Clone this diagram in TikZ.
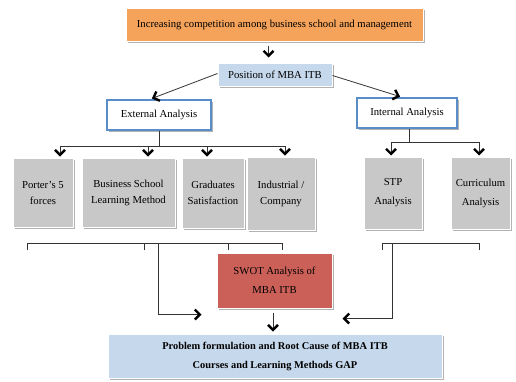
\documentclass[tikz,border=0pt]{standalone}
\usepackage{fontspec}
\setmainfont{Liberation Serif}
\usetikzlibrary{arrows.meta,shadows}

\definecolor{orangebox}{HTML}{F5A35A}
\definecolor{paleblue}{HTML}{C6D8EC}
\definecolor{greybox}{HTML}{C8C8C8}
\definecolor{swotred}{HTML}{CB6058}
\definecolor{frameblue}{HTML}{5A8CC8}
\definecolor{linegrey}{HTML}{333333}

\tikzset{
  card/.style={draw=white, line width=1pt, inner sep=2pt, align=center,
    font=\fontsize{10.7}{16}\selectfont,
    drop shadow={shadow xshift=1.5pt, shadow yshift=-1.5pt, fill=black, opacity=0.3}},
  topbox/.style={card, fill=orangebox},
  bluebox/.style={card, fill=paleblue},
  framebox/.style={card, fill=white, draw=frameblue, line width=1.6pt},
  factor/.style={card, fill=greybox},
  redbox/.style={card, fill=swotred, font=\fontsize{10.7}{19}\selectfont},
  wire/.style={draw=linegrey, line width=0.8pt},
  arr/.style={wire, -{Straight Barb[length=5pt, width=10pt, line width=2.4pt 0, color=black]}},
}

\begin{document}
\begin{tikzpicture}[x=1pt, y=-1pt]
\useasboundingbox (0,0) rectangle (516,381);

% boxes
\node[topbox, minimum width=297pt, minimum height=33pt] (top) at (274.5,24.5)
  {Increasing competition among business school and management};
\node[bluebox, minimum width=114pt, minimum height=23pt] (pos) at (275,74.5)
  {Position of MBA ITB};
\node[framebox, minimum width=104pt, minimum height=30pt] (ext) at (159,115)
  {External Analysis};
\node[framebox, minimum width=100pt, minimum height=30pt] (int) at (407,113)
  {Internal Analysis};

\node[factor, minimum width=60pt, minimum height=69pt] (porter) at (43,192.5)
  {Porter’s 5\\forces};
\node[factor, minimum width=93pt, minimum height=69pt] (bsl) at (128.5,192.5)
  {Business School\\Learning Method};
\node[factor, minimum width=62pt, minimum height=70pt] (grad) at (213,193)
  {Graduates\\Satisfaction};
\node[factor, minimum width=68pt, minimum height=73pt] (ind) at (281,193.5)
  {Industrial /\\Company};
\node[factor, minimum width=58pt, minimum height=72pt, font=\fontsize{10.7}{19}\selectfont] (stp) at (393,193)
  {STP\\Analysis};
\node[factor, minimum width=59pt, minimum height=72pt, font=\fontsize{10.7}{19}\selectfont] (cur) at (480.5,193)
  {Curriculum\\Analysis};

\node[redbox, minimum width=115pt, minimum height=55pt] (swot) at (274.5,280.5)
  {SWOT Analysis of\\MBA ITB};
\node[bluebox, minimum width=334pt, minimum height=44pt, font=\bfseries\fontsize{10.4}{19}\selectfont] (gap) at (275,356)
  {Problem formulation and Root Cause of MBA ITB\\Courses and Learning Methods GAP};

% top of the chain
\draw[arr, shorten <=4pt, shorten >=5pt] ([xshift=-6pt]top.south) -- ([xshift=-6pt]top.south |- pos.north);
\draw[arr, shorten >=2pt] ([yshift=1pt]pos.west) -- ([xshift=-9pt]ext.north);
\draw[arr, shorten >=2pt] ([yshift=-1pt]pos.east) -- ([xshift=-5pt]int.north);

% external analysis branches
\coordinate (ej) at (159,146);
\coordinate (e1) at (60,146);
\coordinate (e2) at (148,146);
\coordinate (e3) at (207,146);
\coordinate (e4) at (285,146);
\draw[wire] (ext.south) -- (ej);
\draw[wire] (e1) -- (e4);
\foreach \c/\b in {e1/porter, e2/bsl, e3/grad, e4/ind}
  \draw[arr, shorten >=1pt] (\c) -- (\c |- \b.north);

% internal analysis branches
\coordinate (ij) at (409,142);
\coordinate (i1) at (391,142);
\coordinate (i2) at (479,142);
\draw[wire] ([xshift=2pt]int.south) -- (ij);
\draw[wire] (i1) -- (i2);
\foreach \c/\b in {i1/stp, i2/cur}
  \draw[arr, shorten >=1pt] (\c) -- (\c |- \b.north);

% bracket under the external factors
\coordinate (lb1) at (27,243);
\coordinate (lb2) at (144,243);
\coordinate (lb3) at (228,243);
\coordinate (lb4) at (282,243);
\coordinate (lbj) at (158,243);
\draw[wire] ([yshift=-7pt]lb1) -- (lb1) -- (lb4) -- ([yshift=-7pt]lb4);
\draw[wire] ([yshift=-7pt]lb2) -- (lb2);
\draw[wire] ([yshift=-7pt]lb3) -- (lb3);
\coordinate (swin) at ([xshift=-15pt,yshift=-6pt]swot.south west);
\draw[arr] (lbj) |- (swin);

% bracket under the internal factors
\coordinate (rb1) at (382,243);
\coordinate (rb2) at (479,243);
\coordinate (rbj) at (392,243);
\draw[wire] ([yshift=-7pt]rb1) -- (rb1) -- (rb2) -- ([yshift=-7pt]rb2);
\coordinate (swin2) at ([xshift=10pt,yshift=-10pt]swot.south east);
\draw[arr] (rbj) |- (swin2);

% result
\draw[arr, shorten <=4pt, shorten >=2pt] ([xshift=-1.5pt]swot.south) -- ([xshift=-1.5pt]swot.south |- gap.north);
\end{tikzpicture}
\end{document}
